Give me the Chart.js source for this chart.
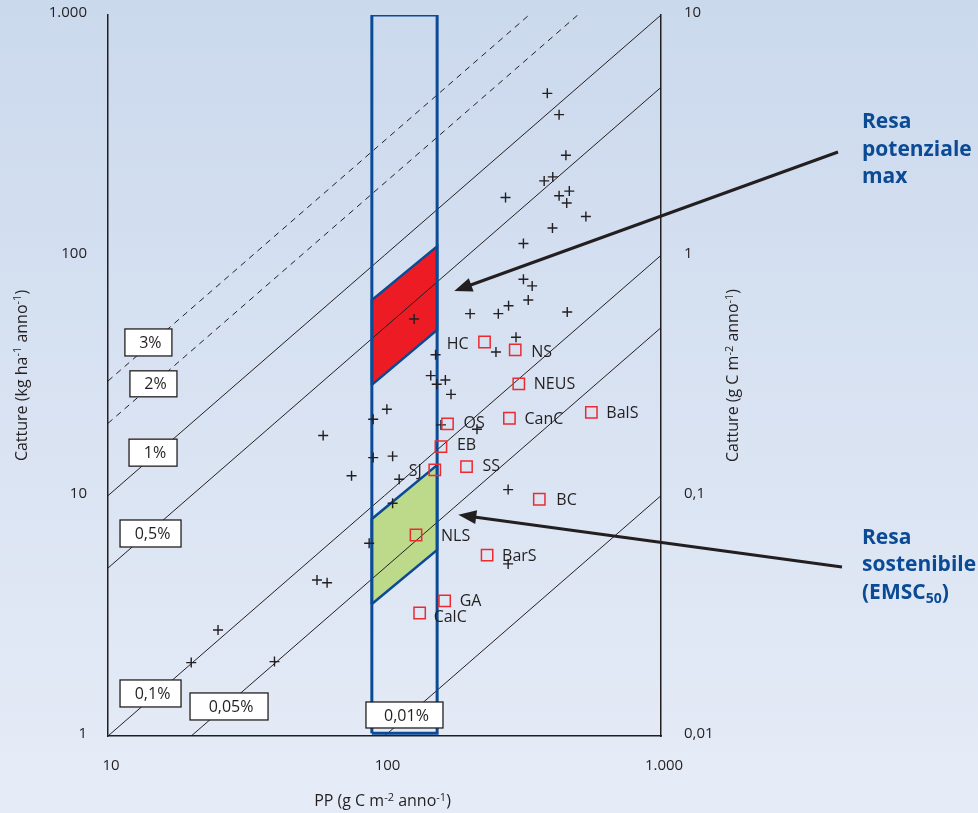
<!DOCTYPE html>
<html lang="it">
<head>
<meta charset="utf-8">
<title>Catture e produzione primaria</title>
<script src="https://cdn.jsdelivr.net/npm/chart.js@4.4.1/dist/chart.umd.min.js"></script>
<style>
  html, body { margin: 0; padding: 0; background: #dbe4f2; }
  #wrap { width: 978px; height: 813px; }
  canvas { display: block; }
</style>
</head>
<body>
<div id="wrap"><canvas id="chart" width="978" height="813"></canvas></div>
<script>
// ---- Data -------------------------------------------------------------
// Axis ranges and tick labels (Italian number format)
const ppRange = [10, 1000];                 // PP, g C m-2 anno-1
const catchRange = [1, 1000];               // catture, kg ha-1 anno-1
const catchCRange = [0.01, 10];             // catture, g C m-2 anno-1
const xTicks = [10, 100, 1000];
const xTickLabels = ['10', '100', '1.000'];
const yTicks = [1, 10, 100, 1000];
const yTickLabels = ['1', '10', '100', '1.000'];
const y2Ticks = [0.01, 0.1, 1, 10];
const y2TickLabels = ['0,01', '0,1', '1', '10'];

// Transfer efficiency iso-lines: catture = PP x percentuale
const transferPct = [3, 2, 1, 0.5, 0.1, 0.05, 0.01];
const transferLabels = ['3%', '2%', '1%', '0,5%', '0,1%', '0,05%', '0,01%'];

// Ecosystems (crosses): PP and catture
const ecoPP = [388, 428, 453, 406, 378, 466, 428, 456, 535, 274,
               405, 318, 318, 342, 331, 281, 258, 204, 458, 128,
               299, 253, 153, 147, 166, 154.5, 174, 102, 91, 60,
               160, 216, 91, 107, 76, 113, 107, 88, 57, 62,
               25, 20, 40, 280, 280];
const ecoCatch = [472, 385, 261, 212, 204, 185, 177, 165, 145, 174,
                  130, 112, 79.5, 74.6, 65.2, 61.7, 57.2, 57.2, 58.1, 54.3,
                  45.6, 39.6, 38.6, 31.6, 30.3, 29.1, 26.4, 22.9, 20.8, 17.8,
                  19.7, 18.9, 14.4, 14.6, 12.1, 11.7, 9.3, 6.34, 4.46, 4.34,
                  2.76, 2.02, 2.04, 10.6, 5.2];

// Large marine ecosystems (red squares)
const lmeNames = ['HC', 'NS', 'NEUS', 'CanC', 'BalS', 'OS', 'EB', 'SJ', 'SS', 'BC', 'NLS', 'BarS', 'GA', 'CalC'];
const lmePP = [230, 297, 306, 283, 560, 169, 160, 152, 198, 363, 130, 235, 165, 134];
const lmeCatch = [43.6, 40.4, 29.2, 21.0, 22.2, 19.9, 16.0, 12.8, 13.2, 9.66, 6.86, 5.66, 3.65, 3.25];

// Reference PP zone and yield bands at its two edges
const zonePP = [90, 155];
const zoneCatch = [1.026, 1000];
const maxYieldLow = [28.9, 48.9];
const maxYieldHigh = [65.2, 109];
const sustYieldLow = [3.54, 5.94];
const sustYieldHigh = [8.0, 13.4];

// Arrow targets (PP, catture)
const arrowTargetMax = [178.8, 71.1];
const arrowTargetSust = [184.9, 8.33];

// ---- Styles & layout --------------------------------------------------
const INK = '#231f20';
const BLUE = '#0b4a94';
const RED = '#ed1c24';
const GREEN = '#bdd98a';
const SQUARE = '#ec2a30';
const FONT = "'Open Sans', 'Noto Sans', sans-serif";

// where each percentage box sits (PP, catture) and its size in px
const pctBoxAnchor = [[14.0, 43.4], [14.6, 29.2], [14.55, 15.1], [14.25, 6.96], [14.25, 1.503], [27.4, 1.327], [118.1, 1.223]];
const pctBoxSize = [[47, 27], [47, 26], [48, 27], [61, 27], [61, 27], [78, 27], [77, 26]];

// label offsets next to the squares
const siteLabelOffset = {
  HC: [-16, 1, 'right'], SJ: [-13, 1, 'right'], NLS: [25, 0, 'left'], CalC: [14, 3, 'left'],
  NS: [16, 2, 'left'], OS: [16, -1, 'left'], EB: [16, -2, 'left'], SS: [16, -1, 'left'], BC: [17, 0, 'left']
};

Chart.defaults.font.family = FONT;
Chart.defaults.color = INK;

function band(low, high) {
  return [
    { x: zonePP[0], y: low[0] }, { x: zonePP[0], y: high[0] },
    { x: zonePP[1], y: high[1] }, { x: zonePP[1], y: low[1] },
    { x: zonePP[0], y: low[0] }
  ];
}

const datasets = [];

// yield bands (filled quadrilaterals)
datasets.push({
  label: 'Resa potenziale max', data: band(maxYieldLow, maxYieldHigh),
  backgroundColor: RED, borderColor: BLUE, borderWidth: 2.5, fill: 'shape',
  pointRadius: 0, tension: 0, order: 9
});
datasets.push({
  label: 'Resa sostenibile', data: band(sustYieldLow, sustYieldHigh),
  backgroundColor: GREEN, borderColor: BLUE, borderWidth: 2.5, fill: 'shape',
  pointRadius: 0, tension: 0, order: 9
});

// iso-lines of transfer efficiency
transferPct.forEach((p, i) => {
  datasets.push({
    label: transferLabels[i],
    data: [{ x: ppRange[0], y: ppRange[0] * p }, { x: ppRange[1], y: ppRange[1] * p }],
    borderColor: INK, borderWidth: 1, borderDash: p >= 2 ? [6, 5] : [],
    pointRadius: 0, fill: false, tension: 0, order: 6
  });
});

// PP zone outline
datasets.push({
  label: 'Zona PP',
  data: [
    { x: zonePP[0], y: zoneCatch[0] }, { x: zonePP[0], y: zoneCatch[1] },
    { x: zonePP[1], y: zoneCatch[1] }, { x: zonePP[1], y: zoneCatch[0] },
    { x: zonePP[0], y: zoneCatch[0] }
  ],
  borderColor: BLUE, borderWidth: 3, fill: false, pointRadius: 0, tension: 0, order: 4
});

// ecosystems
datasets.push({
  label: 'Ecosistemi', showLine: false,
  data: ecoPP.map((v, i) => ({ x: v, y: ecoCatch[i] })),
  pointStyle: 'cross', pointRadius: 5, pointBorderColor: INK, pointBorderWidth: 1.4,
  borderColor: INK, order: 2
});

// large marine ecosystems
datasets.push({
  label: 'LME', showLine: false,
  data: lmePP.map((v, i) => ({ x: v, y: lmeCatch[i] })),
  pointStyle: 'rect', pointRadius: 8, pointBorderColor: SQUARE, pointBackgroundColor: 'rgba(0,0,0,0)',
  pointBorderWidth: 1.5, borderColor: SQUARE, order: 1
});

// ---- Drawing helpers --------------------------------------------------
function drawRich(ctx, parts, x, y, size, weight, align) {
  // parts: [text, mode] with mode '', 'sup' or 'sub'; y is the baseline
  const fontFor = m => `${weight} ${m ? Math.round(size * 0.66) : size}px ${FONT}`;
  let total = 0;
  parts.forEach(([t, m]) => { ctx.font = fontFor(m); total += ctx.measureText(t).width; });
  let cx = align === 'center' ? x - total / 2 : x;
  ctx.textAlign = 'left';
  ctx.textBaseline = 'alphabetic';
  parts.forEach(([t, m]) => {
    ctx.font = fontFor(m);
    const dy = m === 'sup' ? -size * 0.32 : (m === 'sub' ? size * 0.2 : 0);
    ctx.fillText(t, cx, y + dy);
    cx += ctx.measureText(t).width;
  });
}

function drawArrow(ctx, x0, y0, x1, y1) {
  const ang = Math.atan2(y1 - y0, x1 - x0);
  const headLen = 18, headHalf = 7;
  const bx = x1 - Math.cos(ang) * headLen, by = y1 - Math.sin(ang) * headLen;
  ctx.strokeStyle = INK;
  ctx.lineWidth = 3;
  ctx.beginPath();
  ctx.moveTo(x0, y0);
  ctx.lineTo(bx + Math.cos(ang) * 2, by + Math.sin(ang) * 2);
  ctx.stroke();
  ctx.fillStyle = INK;
  ctx.beginPath();
  ctx.moveTo(x1, y1);
  ctx.lineTo(bx - Math.sin(ang) * headHalf, by + Math.cos(ang) * headHalf);
  ctx.lineTo(bx + Math.sin(ang) * headHalf, by - Math.cos(ang) * headHalf);
  ctx.closePath();
  ctx.fill();
}

const decorations = {
  id: 'decorations',
  beforeDraw(chart) {
    const { ctx, width, height } = chart;
    const g = ctx.createLinearGradient(0, 0, 0, height);
    g.addColorStop(0, '#cbd9ed');
    g.addColorStop(1, '#e6ecf7');
    ctx.save();
    ctx.fillStyle = g;
    ctx.fillRect(0, 0, width, height);
    ctx.restore();
  },
  afterDatasetsDraw(chart) {
    const { ctx, chartArea: area } = chart;
    const xs = chart.scales.x, ys = chart.scales.y;
    ctx.save();

    // percentage boxes
    transferLabels.forEach((lab, i) => {
      const cx = xs.getPixelForValue(pctBoxAnchor[i][0]);
      const cy = ys.getPixelForValue(pctBoxAnchor[i][1]);
      const [w, h] = pctBoxSize[i];
      ctx.fillStyle = '#ffffff';
      ctx.fillRect(cx - w / 2, cy - h / 2, w, h);
      ctx.strokeStyle = INK;
      ctx.lineWidth = 1.3;
      ctx.strokeRect(cx - w / 2, cy - h / 2, w, h);
      ctx.fillStyle = INK;
      ctx.font = `16px ${FONT}`;
      ctx.textAlign = 'center';
      ctx.textBaseline = 'middle';
      ctx.fillText(lab, cx + 2, cy + 1);
    });

    // square labels
    ctx.font = `16px ${FONT}`;
    ctx.fillStyle = INK;
    ctx.textBaseline = 'middle';
    lmeNames.forEach((name, i) => {
      const px = xs.getPixelForValue(lmePP[i]);
      const py = ys.getPixelForValue(lmeCatch[i]);
      const [dx, dy, align] = siteLabelOffset[name] || [15, 0, 'left'];
      ctx.textAlign = align;
      ctx.fillText(name, px + dx, py + dy + 1);
    });

    // arrows from the callouts
    const tx = area.right + 201;
    drawArrow(ctx, area.right + 177, 152, xs.getPixelForValue(arrowTargetMax[0]), ys.getPixelForValue(arrowTargetMax[1]));
    drawArrow(ctx, area.right + 181, 567, xs.getPixelForValue(arrowTargetSust[0]), ys.getPixelForValue(arrowTargetSust[1]));

    // callout texts
    ctx.fillStyle = BLUE;
    drawRich(ctx, [['Resa', '']], tx, 128, 21, 'bold', 'left');
    drawRich(ctx, [['potenziale', '']], tx, 155.5, 21, 'bold', 'left');
    drawRich(ctx, [['max', '']], tx, 183, 21, 'bold', 'left');
    drawRich(ctx, [['Resa', '']], tx, 543.5, 21, 'bold', 'left');
    drawRich(ctx, [['sostenibile', '']], tx, 571, 21, 'bold', 'left');
    drawRich(ctx, [['(EMSC', ''], ['50', 'sub'], [')', '']], tx, 598.5, 21, 'bold', 'left');

    // axis titles
    ctx.fillStyle = INK;
    const midY = (area.top + area.bottom) / 2;
    ctx.save();
    ctx.translate(26.5, midY);
    ctx.rotate(-Math.PI / 2);
    drawRich(ctx, [['Catture (kg ha', ''], ['-1', 'sup'], [' anno', ''], ['-1', 'sup'], [')', '']], 0, 0, 16, 'normal', 'center');
    ctx.restore();
    ctx.save();
    ctx.translate(area.right + 77, midY);
    ctx.rotate(-Math.PI / 2);
    drawRich(ctx, [['Catture (g C m', ''], ['-2', 'sup'], [' anno', ''], ['-1', 'sup'], [')', '']], 0, 0, 16, 'normal', 'center');
    ctx.restore();
    drawRich(ctx, [['PP (g C m', ''], ['-2', 'sup'], [' anno', ''], ['-1', 'sup'], [')', '']], 382.5, 806, 16, 'normal', 'center');

    ctx.restore();
  }
};

const axisBorder = { display: true, color: INK, width: 1.5 };
const noGrid = { display: false, drawTicks: false };

// fixed scale sizes so that the plot area is placed exactly
function fixVertical(width) {
  return s => { s.width = width; s.paddingTop = 0; s.paddingBottom = 0; };
}
function fixHorizontal(height) {
  return s => { s.height = height; s.paddingLeft = 0; s.paddingRight = 0; };
}

new Chart(document.getElementById('chart'), {
  type: 'line',
  data: { datasets },
  options: {
    responsive: false,
    devicePixelRatio: 1,
    animation: false,
    events: [],
    layout: { padding: { top: 15, left: 0, right: 0, bottom: 0 } },
    plugins: { legend: { display: false }, tooltip: { enabled: false } },
    scales: {
      x: {
        type: 'logarithmic', position: 'bottom', min: ppRange[0], max: ppRange[1],
        grid: noGrid, border: axisBorder,
        afterBuildTicks: s => { s.ticks = xTicks.map(v => ({ value: v })); },
        afterFit: fixHorizontal(77),
        ticks: {
          autoSkip: false, maxRotation: 0, padding: 21, labelOffset: 3,
          color: INK, font: { size: 15 },
          callback: (v, i) => xTickLabels[i]
        }
      },
      y: {
        type: 'logarithmic', position: 'left', min: catchRange[0], max: catchRange[1],
        grid: noGrid, border: axisBorder,
        afterBuildTicks: s => { s.ticks = yTicks.map(v => ({ value: v })); },
        afterFit: fixVertical(108),
        ticks: {
          autoSkip: false, padding: 21, labelOffset: -2,
          color: INK, font: { size: 15 },
          callback: (v, i) => yTickLabels[i]
        }
      },
      y2: {
        type: 'logarithmic', position: 'right', min: catchCRange[0], max: catchCRange[1],
        grid: noGrid, border: axisBorder,
        afterBuildTicks: s => { s.ticks = y2Ticks.map(v => ({ value: v })); },
        afterFit: fixVertical(317),
        ticks: {
          autoSkip: false, padding: 23, labelOffset: -2,
          color: INK, font: { size: 15 },
          callback: (v, i) => y2TickLabels[i]
        }
      }
    }
  },
  plugins: [decorations]
});
</script>
</body>
</html>
